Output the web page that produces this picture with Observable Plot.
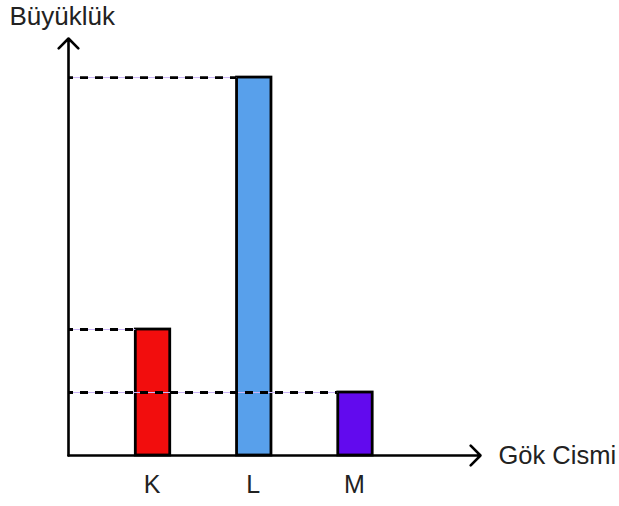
<!DOCTYPE html>
<html><head><meta charset="utf-8">
<script src="https://cdn.jsdelivr.net/npm/d3@7"></script>
<script src="https://cdn.jsdelivr.net/npm/@observablehq/plot@0.6"></script>
<style>body{margin:0;background:#fff}</style>
</head><body><div id="chart"></div>
<script>
const categories = ["K", "L", "M"];
const values = [2, 6, 1];
const colors = ["#F20D0D", "#58A0EB", "#620AEE"];
const yAxisTitle = "Büyüklük";
const xAxisTitle = "Gök Cismi";

const data = categories.map((c, i) => ({cat: c, i, v: values[i], color: colors[i]}));
const X0 = -0.835, X1 = 3.235, Y1 = 6.62, HW = 0.17;
const font = "'Liberation Sans', Arial, Helvetica, sans-serif";

const plot = Plot.plot({
  width: 619, height: 506, margin: 0,
  style: {fontFamily: font, background: "#fff", overflow: "visible"},
  x: {type: "linear", domain: [X0, X1], range: [68, 480], axis: null},
  y: {type: "linear", domain: [0, Y1], range: [455, 38], axis: null},
  marks: [
    Plot.rectY(data, {x1: d => d.i - HW, x2: d => d.i + HW, y1: 0, y2: "v", fill: "color", stroke: "#000", strokeWidth: 2.8}),
    Plot.ruleY(data, {y: "v", x1: X0, x2: d => d.i - HW, stroke: "#c9b3f6", strokeWidth: 1}),
    Plot.ruleY(data, {y: "v", x1: X0, x2: d => d.i - HW, stroke: "#000", strokeWidth: 2.8, strokeDasharray: "8,7", strokeDashoffset: 3}),
    Plot.arrow([0], {x1: X0, y1: 0, x2: X0, y2: Y1, stroke: "#000", strokeWidth: 2.6, headAngle: 90, headLength: 8}),
    Plot.arrow([0], {x1: X0, y1: 0, x2: X1, y2: 0, stroke: "#000", strokeWidth: 2.6, headAngle: 90, headLength: 8}),
    Plot.text(data, {x: "i", y: 0, text: "cat", dy: 29, dx: -1, fontSize: 25, fill: "#222", lineAnchor: "middle"}),
    Plot.text([yAxisTitle], {frameAnchor: "top-left", text: d => d, dx: 9, dy: 6, fontSize: 26, fill: "#222", textAnchor: "start", lineAnchor: "top"}),
    Plot.text([xAxisTitle], {x: X1, y: 0, text: d => d, dx: 18, textAnchor: "start", lineAnchor: "middle", fontSize: 25.5, fill: "#222"})
  ]
});
document.getElementById("chart").append(plot);
</script>
</body></html>
